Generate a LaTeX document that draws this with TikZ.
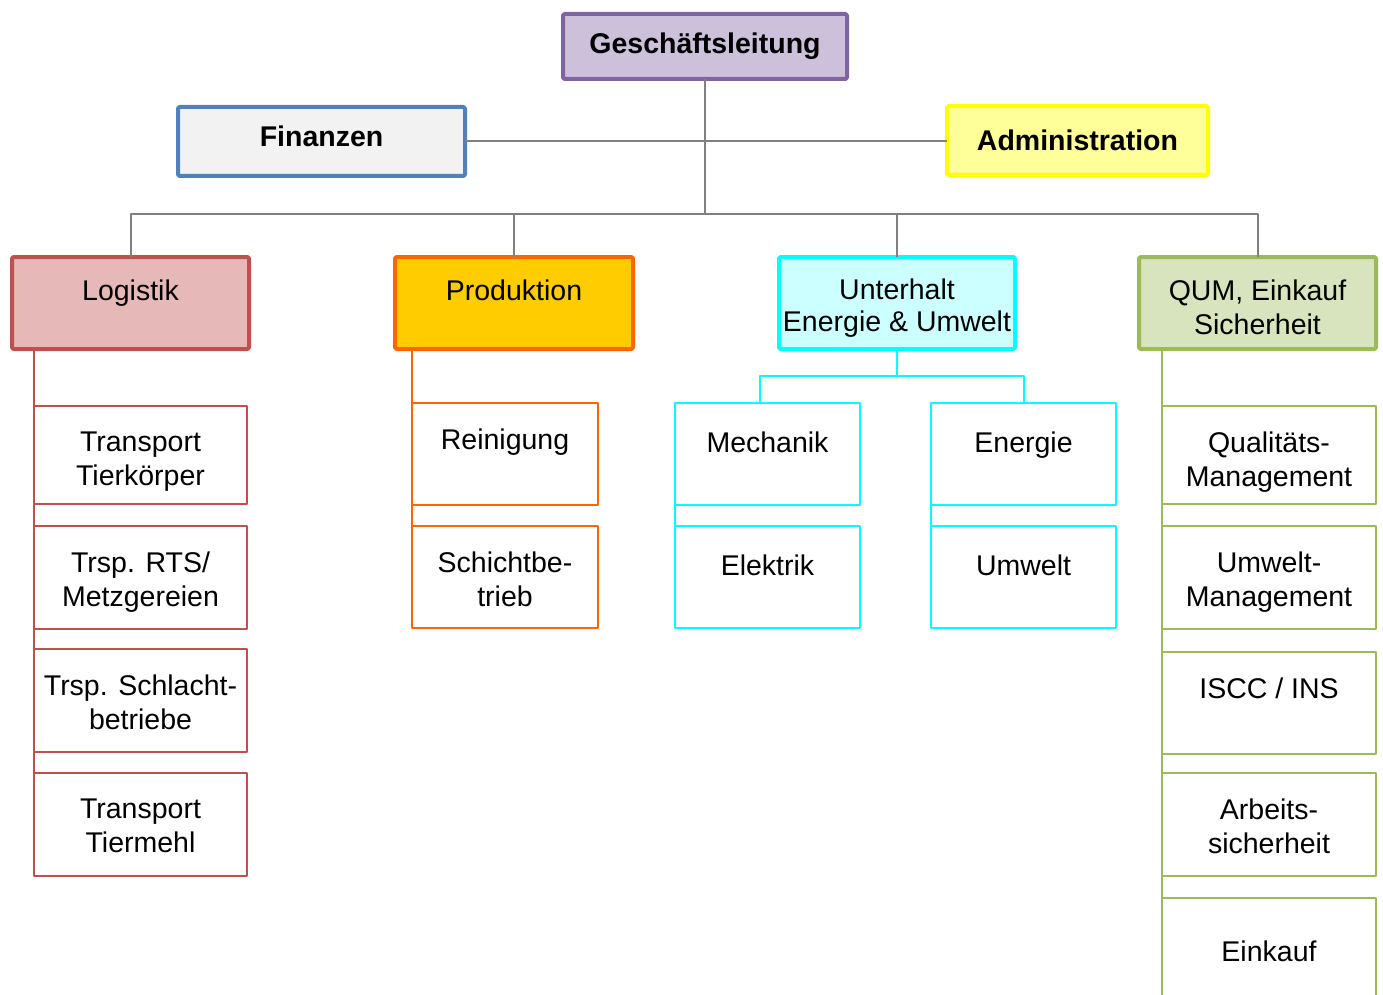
\documentclass[tikz,border=0pt]{standalone}
\usepackage{fontspec}
\setmainfont{Liberation Sans}
\usetikzlibrary{positioning}

\definecolor{glfill}{HTML}{CCC0DA}
\definecolor{glline}{HTML}{8064A2}
\definecolor{finfill}{HTML}{F2F2F2}
\definecolor{finline}{HTML}{4F81BD}
\definecolor{admfill}{HTML}{FFFF99}
\definecolor{admline}{HTML}{FFFF00}
\definecolor{logfill}{HTML}{E6B9B8}
\definecolor{logline}{HTML}{C0504D}
\definecolor{prodfill}{HTML}{FFCC00}
\definecolor{prodline}{HTML}{FF6600}
\definecolor{untfill}{HTML}{CCFFFF}
\definecolor{untline}{HTML}{00FFFF}
\definecolor{qumfill}{HTML}{D7E4BD}
\definecolor{qumline}{HTML}{9BBB59}
\definecolor{lgray}{HTML}{808080}

\begin{document}
\begin{tikzpicture}[x=1pt, y=-1pt, line join=round,
    every node/.style={font=\fontsize{28.5}{34}\selectfont, inner sep=0pt, outer sep=0pt},
    top/.style={draw, line width=4pt, rounded corners=1.5pt, anchor=north west,
        font=\fontsize{28.5}{34}\selectfont\bfseries},
    dept/.style={draw, line width=4pt, rounded corners=1.5pt, anchor=north west,
        minimum height=92pt},
    unit/.style={draw, line width=2pt, fill=white, anchor=north west},
    lbl/.style={anchor=north, align=center, yshift=-23pt},
    sublbl/.style={lbl, yshift=-3pt},
    link/.style={draw=lgray, line width=2pt}]
    \useasboundingbox (0,0) rectangle (1383,995);

    % Leitung
    \node[top, fill=glfill, draw=glline, minimum width=284pt, minimum height=65pt] (gl) at (563,14) {Geschäftsleitung};
    \node[top, fill=finfill, draw=finline, minimum width=287pt, minimum height=69pt] (fin) at (178,107) {\raisebox{10pt}{Finanzen}};
    \node[top, fill=admfill, draw=admline, minimum width=261pt, minimum height=69pt] (adm) at (947,106) {Administration};

    % Abteilungen
    \node[dept, fill=logfill, draw=logline, minimum width=237pt] (log) at (12,257) {};
    \node[dept, fill=prodfill, draw=prodline, minimum width=238pt] (prod) at (395,257) {};
    \node[dept, fill=untfill, draw=untline, minimum width=236pt] (unt) at (779,257) {};
    \node[dept, fill=qumfill, draw=qumline, minimum width=237pt] (qum) at (1139,257) {};
    \node[lbl] (log-t) at (log.north) {Logistik};
    \node[lbl] (prod-t) at (prod.north) {Produktion};
    \node[lbl, yshift=1pt] (unt-t) at (unt.north) {Unterhalt\\[-2pt]Energie \& Umwelt};
    \node[lbl] (qum-t) at (qum.north) {QUM, Einkauf\\Sicherheit};

    \coordinate (bus) at (705,214);
    \draw[link] (gl.south) -- (bus);
    \draw[link] (fin.east) -- (fin.east -| adm.west);
    \draw[link] (log.north) |- (bus) -| (qum.north);
    \draw[link] (prod.north) |- (bus);
    \draw[link] (unt.north) |- (bus);

    % Logistik
    \foreach \n/\y/\h/\t in {tk/406/98/{Transport\\Tierkörper},
        rts/526/103/{Trsp. RTS/\\Metzgereien},
        sb/649/103/{Trsp. Schlacht-\\betriebe},
        tm/773/103/{Transport\\Tiermehl}} {
        \node[unit, draw=logline, minimum width=213pt, minimum height=\h pt] (\n) at (34,\y) {};
        \node[sublbl] (\n-t) at (\n.north) {\t};
    }
    \draw[link, draw=logline] (log.south -| tm.west) -- (tm.west);

    % Produktion
    \foreach \n/\y/\t in {rein/403/{Reinigung}, schicht/526/{Schichtbe-\\trieb}} {
        \node[unit, draw=prodline, minimum width=186pt, minimum height=102pt] (\n) at (412,\y) {};
        \node[sublbl] (\n-t) at (\n.north) {\t};
    }
    \draw[link, draw=prodline] (prod.south -| schicht.west) -- (schicht.west);

    % Unterhalt
    \foreach \n/\x/\y/\t in {mech/675/403/{Mechanik}, ener/931/403/{Energie},
        elek/675/526/{Elektrik}, umw/931/526/{Umwelt}} {
        \node[unit, draw=untline, minimum width=185pt, minimum height=102pt] (\n) at (\x,\y) {};
        \node[sublbl, yshift=-3pt] (\n-t) at (\n.north) {\t};
    }
    \coordinate (uj) at (897,376);
    \draw[link, draw=untline] (unt.south) -- (uj);
    \draw[link, draw=untline] ([xshift=-8pt]mech.north) |- (uj) -| (ener.north);
    \draw[link, draw=untline] (mech.south west) -- (elek.north west);
    \draw[link, draw=untline] (ener.south west) -- (umw.north west);

    % QUM
    \foreach \n/\y/\h/\t in {qm/406/98/{Qualitäts-\\Management},
        um/526/103/{Umwelt-\\Management},
        iscc/652/102/{ISCC / INS},
        as/773/103/{Arbeits-\\sicherheit}} {
        \node[unit, draw=qumline, minimum width=214pt, minimum height=\h pt] (\n) at (1162,\y) {};
        \node[sublbl] (\n-t) at (\n.north) {\t};
    }
    \node[unit, draw=qumline, minimum width=214pt, minimum height=112pt] (eink) at (1162,898) {};
    \node[lbl, yshift=-20pt] (eink-t) at (eink.north) {Einkauf};
    \draw[link, draw=qumline] (qum.south -| eink.west) -- (eink.west);
\end{tikzpicture}
\end{document}
